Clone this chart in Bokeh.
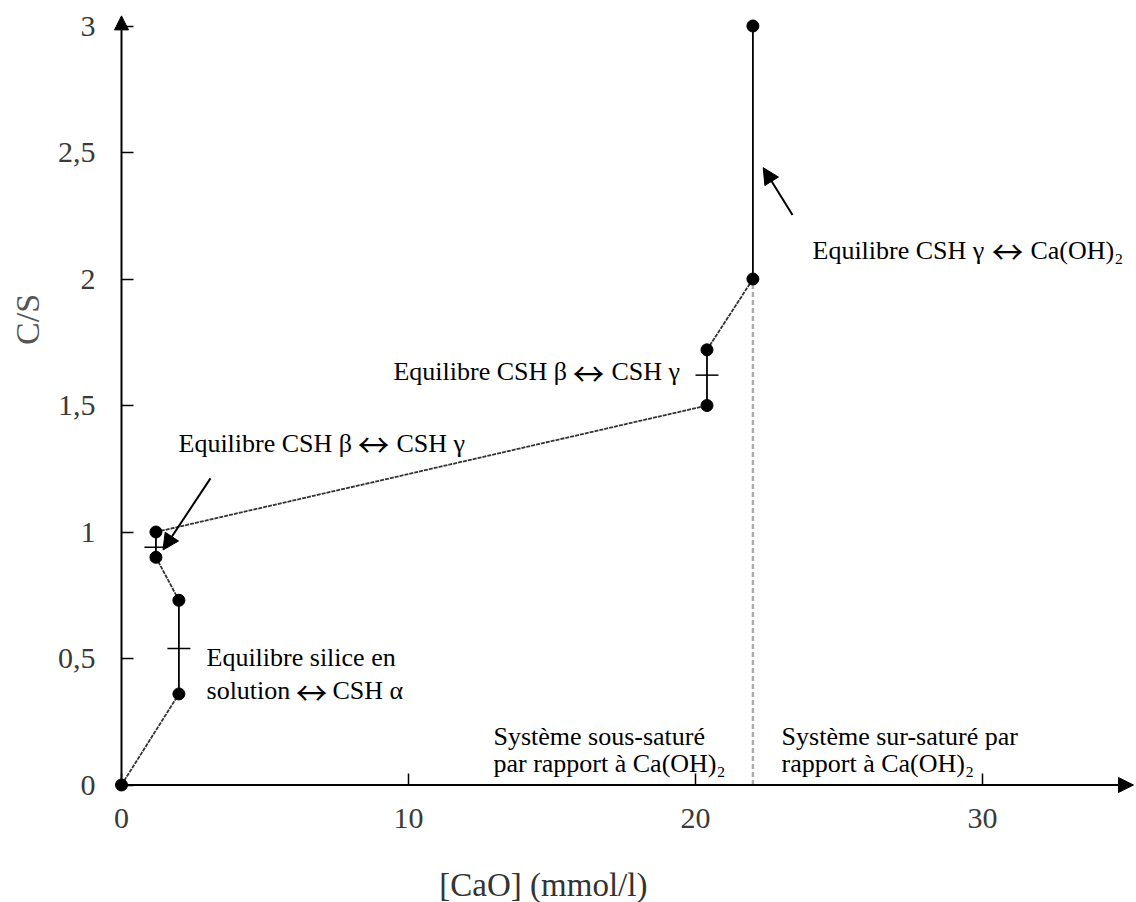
import math
from bokeh.plotting import figure
from bokeh.models import Range1d, FixedTicker, Arrow, NormalHead, Label
from bokeh.embed import file_html
from bokeh.resources import INLINE

# ---------------- data ----------------
cao = [0.0, 2.0, 2.0, 1.2, 1.2, 20.4, 20.4, 22.0, 22.0]
cs = [0.0, 0.36, 0.73, 0.90, 1.00, 1.50, 1.72, 2.00, 3.00]
cross_cao = [2.0, 1.2, 20.4]
cross_cs = [0.54, 0.94, 1.62]
sat_cao = 22.0
sat_cs_top = 2.0
x_ticks = [0, 10, 20, 30]
y_ticks = [0, 0.5, 1, 1.5, 2, 2.5, 3]
y_tick_labels = ["0", "0,5", "1", "1,5", "2", "2,5", "3"]
x_title = "[CaO] (mmol/l)"
y_title = "C/S"
ARROW = "\u2194"
notes = [
    "Equilibre CSH \u03b3 \u2194 Ca(OH)\u2082",
    "Equilibre CSH \u03b2 \u2194 CSH \u03b3",
    "Equilibre CSH \u03b2 \u2194 CSH \u03b3",
    "Equilibre silice en",
    "solution \u2194 CSH \u03b1",
    "Syst\u00e8me sous-satur\u00e9",
    "par rapport \u00e0 Ca(OH)\u2082",
    "Syst\u00e8me sur-satur\u00e9 par",
    "rapport \u00e0 Ca(OH)\u2082",
]

# ---------------- layout ----------------
W, H = 1136, 902
PX_X, X0_PX = 28.7, 121.0
PX_Y, Y0_PX = 253.0, 784.5

# (x of left part, x of arrow centre, x of right part, baseline y) in data units
note_pos = [
    (24.077, 30.871, 31.672, 2.113),
    (9.477, 16.272, 17.073, 1.634),
    (1.986, 8.780, 9.582, 1.350),
    (2.962, None, None, 0.504),
    (2.962, 6.620, 7.352, 0.3735),
    (12.96, None, None, 0.192),
    (12.96, None, None, 0.085),
    (23.0, None, None, 0.192),
    (23.0, None, None, 0.085),
]
ARROW_DY = 0.0
pointer_arrows = [((3.10, 1.212), (1.446, 0.929)), ((23.38, 2.253), (22.36, 2.44))]

p = figure(width=W, height=H,
           x_range=Range1d(-X0_PX / PX_X, (W - X0_PX) / PX_X),
           y_range=Range1d((Y0_PX - H) / PX_Y, Y0_PX / PX_Y),
           output_backend="svg", toolbar_location=None, min_border=0,
           outline_line_color=None, background_fill_color="white",
           border_fill_color="white")
p.xgrid.visible = False
p.ygrid.visible = False

for ax in (p.xaxis[0], p.yaxis[0]):
    ax.fixed_location = 0
    ax.axis_line_color = None
    ax.major_tick_in = 12
    ax.major_tick_out = 0
    ax.minor_tick_line_color = None
    ax.major_tick_line_color = "black"
    ax.major_tick_line_width = 1.5
    ax.major_label_text_font = "Liberation Serif"
    ax.major_label_text_font_size = "30px"
    ax.major_label_text_color = "#3a3a3a"
p.xaxis.ticker = FixedTicker(ticks=x_ticks)
p.yaxis.ticker = FixedTicker(ticks=y_ticks)
p.yaxis.major_label_overrides = {float(t): l for t, l in zip(y_ticks, y_tick_labels)}
p.yaxis.major_label_standoff = 26
p.xaxis.major_label_standoff = 24

# axis lines with arrow heads
p.add_layout(Arrow(end=NormalHead(size=15, fill_color="black", line_color="black", line_width=1),
                   x_start=0, y_start=0, x_end=35.26, y_end=0,
                   line_color="black", line_width=2))
p.add_layout(Arrow(end=NormalHead(size=14, fill_color="black", line_color="black", line_width=1),
                   x_start=0, y_start=-0.006, x_end=0, y_end=3.04,
                   line_color="black", line_width=2))

# saturation limit
p.segment(x0=[sat_cao], y0=[0], x1=[sat_cao], y1=[sat_cs_top],
          line_color="#ababab", line_width=2.4, line_dash="5 3")

# curve segments
vx0, vy0, vx1, vy1 = [], [], [], []
sx0, sy0, sx1, sy1 = [], [], [], []
for i in range(len(cao) - 1):
    if cao[i] == cao[i + 1]:
        vx0.append(cao[i]); vy0.append(cs[i]); vx1.append(cao[i + 1]); vy1.append(cs[i + 1])
    else:
        sx0.append(cao[i]); sy0.append(cs[i]); sx1.append(cao[i + 1]); sy1.append(cs[i + 1])
p.segment(x0=sx0, y0=sy0, x1=sx1, y1=sy1, line_color="#333333", line_width=1.8, line_dash="4 1")
p.segment(x0=vx0, y0=vy0, x1=vx1, y1=vy1, line_color="black", line_width=1.8)

p.scatter(cross_cao, cross_cs, marker="dash", size=23, line_color="black", line_width=1.5)
p.scatter(cao, cs, size=12, fill_color="black", line_color="black")

for (x0, y0), (x1, y1) in pointer_arrows:
    p.add_layout(Arrow(end=NormalHead(size=16, fill_color="black", line_color="black", line_width=1),
                       x_start=x0, y_start=y0, x_end=x1, y_end=y1,
                       line_color="black", line_width=2))


def note_label(x, y, txt, align="left", font="Liberation Serif", size="26px"):
    p.add_layout(Label(x=x, y=y, text=txt, text_font=font, text_font_size=size,
                       text_color="black", text_align=align, text_baseline="alphabetic"))


for txt, (xl, xa, xr, y) in zip(notes, note_pos):
    if ARROW in txt and xa is not None:
        left, right = [s.strip() for s in txt.split(ARROW)]
        note_label(xl, y, left)
        note_label(xa, y + ARROW_DY, ARROW, align="center", font="Noto Sans CJK SC", size="32px")
        note_label(xr, y, right)
    else:
        note_label(xl, y, txt)

p.add_layout(Label(x=14.70, y=-0.397, text=x_title, text_font="Liberation Serif",
                   text_font_size="33px", text_color="#333333",
                   text_align="center", text_baseline="middle"))
p.add_layout(Label(x=-3.275, y=1.840, text=y_title, text_font="Liberation Serif",
                   text_font_size="34px", text_color="#555555", angle=math.pi / 2,
                   text_align="center", text_baseline="middle"))

open("out.html", "w").write(file_html(p, INLINE))
